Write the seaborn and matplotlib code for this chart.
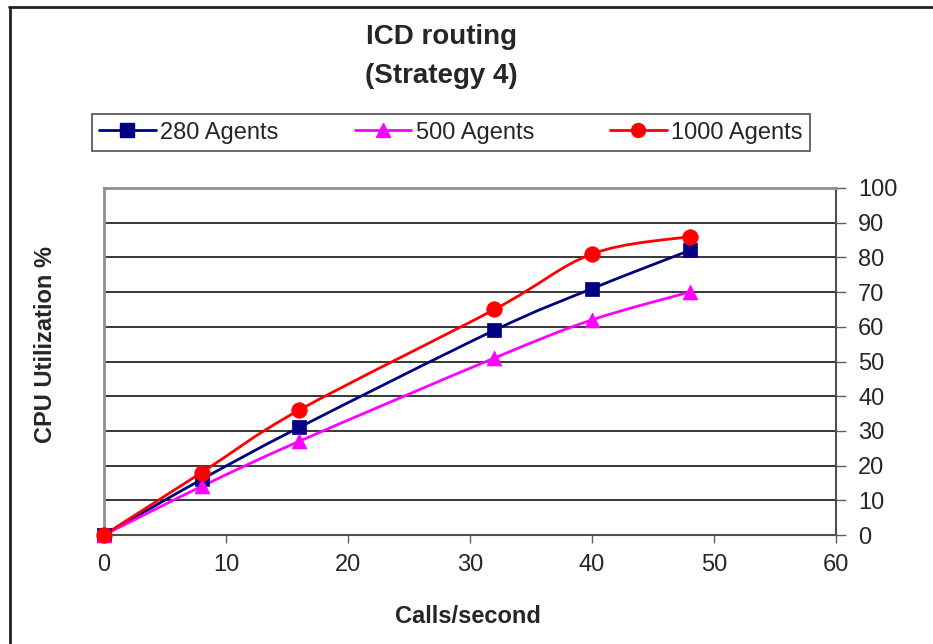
import matplotlib
matplotlib.use("Agg")
import matplotlib.pyplot as plt
from matplotlib.path import Path
from matplotlib.patches import PathPatch
from matplotlib.lines import Line2D
import seaborn as sns
import numpy as np
import pandas as pd

# Data
calls = [0, 8, 16, 32, 40, 48]
agents_280 = [0, 16, 31, 59, 71, 82]
agents_500 = [0, 14, 27, 51, 62, 70]
agents_1000 = [0, 18, 36, 65, 81, 86]
series_names = ["280 Agents", "500 Agents", "1000 Agents"]
x_ticks = [0, 10, 20, 30, 40, 50, 60]
y_ticks = [0, 10, 20, 30, 40, 50, 60, 70, 80, 90, 100]

df = pd.DataFrame({
    "calls": calls * 3,
    "cpu": agents_280 + agents_500 + agents_1000,
    "series": [n for n in series_names for _ in calls],
})

colors = {"280 Agents": "#000080", "500 Agents": "#FF00FF", "1000 Agents": "#FF0000"}
markers = {"280 Agents": "s", "500 Agents": "^", "1000 Agents": "o"}
sizes = {"280 Agents": 105, "500 Agents": 115, "1000 Agents": 125}


def smooth_path(xs, ys):
    # Excel-style smoothed line: Catmull-Rom segments as cubic Bezier curves
    pts = np.column_stack([xs, ys]).astype(float)
    padded = np.vstack([pts[0], pts, pts[-1]])
    verts = [pts[0]]
    codes = [Path.MOVETO]
    for i in range(len(pts) - 1):
        p0, p1, p2, p3 = padded[i], padded[i + 1], padded[i + 2], padded[i + 3]
        verts += [p1 + (p2 - p0) / 6, p2 - (p3 - p1) / 6, p2]
        codes += [Path.CURVE4] * 3
    return Path(verts, codes)


sns.set_style("white")
plt.rcParams["font.family"] = ["Liberation Sans", "DejaVu Sans"]

fig = plt.figure(figsize=(9.33, 6.44), dpi=100)
ax = fig.add_axes([104 / 933, 1 - 535 / 644, 732 / 933, 347 / 644])

for name in series_names:
    sub = df[df["series"] == name]
    ax.add_patch(PathPatch(smooth_path(sub["calls"], sub["cpu"]), facecolor="none",
                           edgecolor=colors[name], lw=2, zorder=3, clip_on=False))
    sns.scatterplot(data=sub, x="calls", y="cpu", marker=markers[name], s=sizes[name],
                    color=colors[name], edgecolor=colors[name], linewidth=0.5,
                    ax=ax, zorder=4, legend=False, clip_on=False)

ax.set_xlim(0, 60)
ax.set_ylim(0, 100)
ax.set_xticks(x_ticks)
ax.set_yticks(y_ticks)

ax.yaxis.tick_right()
ax.yaxis.set_label_position("left")
ax.tick_params(axis="y", right=True, left=False, labelright=True, labelleft=False,
               direction="out", length=7, width=1, color="#606060", labelsize=17, pad=9)
ax.tick_params(axis="x", bottom=True, direction="out", length=6, width=1,
               color="#606060", labelsize=17, pad=8)

ax.yaxis.grid(True, color="black", lw=1.1)
ax.xaxis.grid(False)
for side in ["left", "top"]:
    ax.spines[side].set_color("#909090")
    ax.spines[side].set_linewidth(2)
for side in ["right", "bottom"]:
    ax.spines[side].set_color("#505050")
    ax.spines[side].set_linewidth(1.5)

ax.set_xlabel("Calls/second", fontsize=17, fontweight="bold", va="center")
ax.xaxis.set_label_coords(0.497, -0.236)
ax.set_ylabel("CPU Utilization %", fontsize=17, fontweight="bold", va="center")
ax.yaxis.set_label_coords(-0.0806, 0.548)

# Title
fig.text(441 / 933, 1 - 37 / 644, "ICD routing", ha="center", va="center",
         fontsize=20, fontweight="bold")
fig.text(441 / 933, 1 - 76 / 644, "(Strategy 4)", ha="center", va="center",
         fontsize=20, fontweight="bold")

# Legend
handles = [Line2D([0], [0], color=colors[n], marker=markers[n], lw=2, markersize=10)
           for n in series_names]
leg = fig.legend(handles, series_names, loc="center", ncol=3, mode="expand",
                 bbox_to_anchor=(92 / 933, 1 - 152 / 644, 718 / 933, 39 / 644),
                 fontsize=17, frameon=True, fancybox=False, borderaxespad=0,
                 handlelength=2.4, handletextpad=0.2, borderpad=0.3)
leg.get_frame().set_edgecolor("#333333")
leg.get_frame().set_linewidth(1.3)

# Outer chart frame (top and left edges visible)
fig.add_artist(Line2D([9 / 933, 1], [1 - 7 / 644, 1 - 7 / 644],
                      transform=fig.transFigure, color="#222222", lw=2))
fig.add_artist(Line2D([10 / 933, 10 / 933], [0, 1 - 7 / 644],
                      transform=fig.transFigure, color="#222222", lw=2))

fig.savefig("out.png", dpi=100)
